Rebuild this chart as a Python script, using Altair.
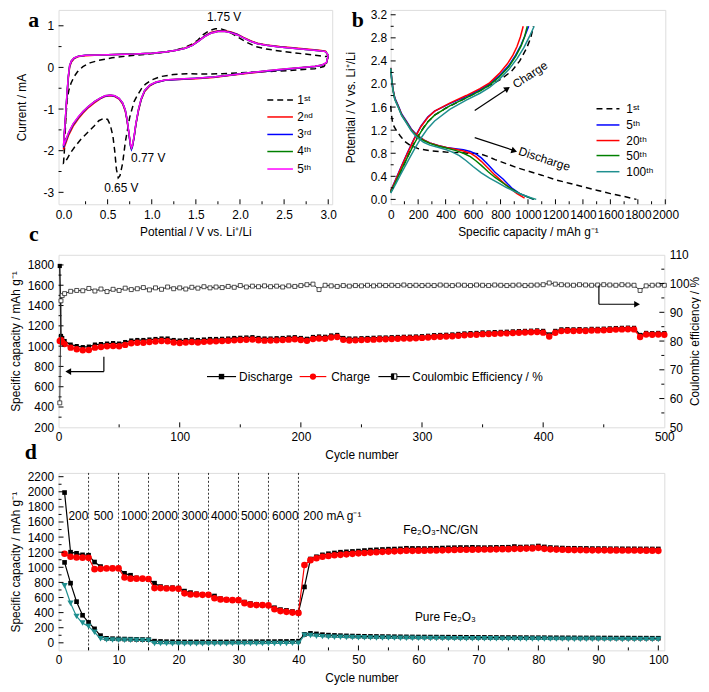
import altair as alt
import pandas as pd

FONT = "Liberation Sans"
SERIF = "Liberation Serif"
FS = 12

# ============================ DATA ============================
# ---- panel a : cyclic voltammograms (path order: cathodic then anodic sweep)
A_NAMES = ["1ˢᵗ", "2ⁿᵈ", "3ʳᵈ", "4ᵗʰ", "5ᵗʰ"]
A1_V = [3.0, 2.98, 2.95, 2.85, 2.6, 2.3, 2.0, 1.8, 1.6, 1.4, 1.25, 1.1, 1.0, 0.93, 0.88,
        0.84, 0.8, 0.75, 0.7, 0.67, 0.64, 0.62, 0.6, 0.58, 0.56, 0.53, 0.5, 0.46, 0.4,
        0.35, 0.28, 0.2, 0.13, 0.08, 0.04, 0.01, 0.0,
        0.01, 0.025, 0.04, 0.06, 0.085, 0.12, 0.16, 0.22, 0.3, 0.4, 0.55, 0.75, 1.0, 1.2,
        1.35, 1.45, 1.52, 1.58, 1.65, 1.72, 1.78, 1.85, 1.92, 2.0, 2.08, 2.18, 2.3, 2.5,
        2.7, 2.9, 2.97, 3.0]
A1_I = [0.28, 0.10, 0.02, -0.03, -0.07, -0.10, -0.13, -0.15, -0.16, -0.15, -0.17, -0.22,
        -0.30, -0.40, -0.52, -0.66, -0.82, -1.20, -1.80, -2.30, -2.60, -2.65, -2.45, -2.00,
        -1.65, -1.38, -1.25, -1.22, -1.28, -1.40, -1.55, -1.72, -1.90, -2.05, -2.20, -2.29,
        -2.30,
        -2.0, -1.3, -0.8, -0.55, -0.38, -0.22, -0.10, 0.02, 0.11, 0.17, 0.23, 0.28, 0.33,
        0.38, 0.46, 0.55, 0.65, 0.78, 0.88, 0.93, 0.93, 0.88, 0.80, 0.70, 0.60, 0.50, 0.44,
        0.38, 0.33, 0.28, 0.26, 0.28]
A_SOLID_V = [3.0, 2.98, 2.93, 2.85, 2.7, 2.5, 2.3, 2.1, 1.9, 1.7, 1.5, 1.3, 1.15, 1.05, 0.98,
             0.92, 0.88, 0.85, 0.82, 0.8, 0.78, 0.77, 0.76, 0.74, 0.72, 0.7, 0.67, 0.63, 0.58,
             0.53, 0.47, 0.42, 0.35, 0.28, 0.22, 0.17, 0.11, 0.06, 0.03, 0.0,
             0.01, 0.025, 0.04, 0.055, 0.07, 0.09, 0.12, 0.17, 0.25, 0.4, 0.6, 0.8, 1.0, 1.15,
             1.28, 1.38, 1.46, 1.53, 1.6, 1.67, 1.75, 1.83, 1.9, 1.97, 2.04, 2.12, 2.2, 2.3,
             2.45, 2.6, 2.75, 2.9, 2.97, 3.0]
A2_I = [0.28, 0.10, 0.05, 0.02, -0.01, -0.05, -0.09, -0.14, -0.19, -0.24, -0.27, -0.29, -0.31,
        -0.36, -0.44, -0.58, -0.78, -1.04, -1.38, -1.68, -1.90, -1.95, -1.88, -1.58, -1.28,
        -1.05, -0.88, -0.76, -0.70, -0.68, -0.70, -0.75, -0.85, -0.97, -1.10, -1.23, -1.41,
        -1.62, -1.80, -1.97,
        -1.62, -1.18, -0.68, -0.26, 0.01, 0.13, 0.21, 0.26, 0.28, 0.30, 0.31, 0.32, 0.34, 0.37,
        0.41, 0.47, 0.54, 0.64, 0.76, 0.84, 0.88, 0.88, 0.85, 0.80, 0.72, 0.64, 0.58, 0.54,
        0.50, 0.47, 0.44, 0.41, 0.39, 0.28]
A3_I = [0.29, 0.11, 0.05, 0.02, -0.01, -0.05, -0.09, -0.13, -0.18, -0.23, -0.26, -0.29, -0.31,
        -0.36, -0.43, -0.56, -0.77, -1.02, -1.37, -1.68, -1.92, -1.97, -1.90, -1.57, -1.26,
        -1.03, -0.86, -0.75, -0.69, -0.67, -0.69, -0.74, -0.83, -0.95, -1.07, -1.20, -1.37,
        -1.58, -1.75, -1.92,
        -1.58, -1.13, -0.63, -0.22, 0.04, 0.15, 0.22, 0.27, 0.29, 0.30, 0.31, 0.32, 0.34, 0.37,
        0.41, 0.46, 0.53, 0.63, 0.75, 0.83, 0.87, 0.87, 0.84, 0.79, 0.71, 0.63, 0.57, 0.53,
        0.49, 0.46, 0.43, 0.40, 0.38, 0.29]
A4_I = [0.30, 0.11, 0.06, 0.03, 0.00, -0.04, -0.08, -0.13, -0.18, -0.23, -0.26, -0.28, -0.30,
        -0.35, -0.42, -0.55, -0.76, -1.01, -1.36, -1.66, -1.89, -1.94, -1.87, -1.56, -1.25,
        -1.02, -0.85, -0.74, -0.68, -0.66, -0.68, -0.73, -0.82, -0.94, -1.06, -1.19, -1.36,
        -1.56, -1.73, -1.89,
        -1.56, -1.11, -0.61, -0.21, 0.05, 0.16, 0.23, 0.27, 0.29, 0.30, 0.31, 0.32, 0.34, 0.37,
        0.41, 0.46, 0.53, 0.63, 0.74, 0.82, 0.86, 0.86, 0.83, 0.78, 0.71, 0.63, 0.57, 0.53,
        0.49, 0.46, 0.43, 0.40, 0.38, 0.30]
A5_I = [0.30, 0.12, 0.06, 0.03, 0.00, -0.04, -0.08, -0.13, -0.18, -0.23, -0.26, -0.28, -0.30,
        -0.35, -0.42, -0.55, -0.75, -1.00, -1.35, -1.65, -1.88, -1.93, -1.86, -1.55, -1.25,
        -1.02, -0.85, -0.74, -0.68, -0.66, -0.68, -0.73, -0.82, -0.94, -1.06, -1.18, -1.35,
        -1.55, -1.72, -1.88,
        -1.55, -1.10, -0.60, -0.20, 0.05, 0.16, 0.23, 0.27, 0.29, 0.30, 0.31, 0.32, 0.34, 0.37,
        0.41, 0.46, 0.53, 0.63, 0.74, 0.82, 0.86, 0.86, 0.83, 0.78, 0.71, 0.63, 0.57, 0.53,
        0.49, 0.46, 0.43, 0.40, 0.38, 0.30]
A_PEAK_TEXT = ["1.75 V", "0.77 V", "0.65 V"]

# ---- panel b : charge / discharge profiles
B_NAMES = ["1ˢᵗ", "5ᵗʰ", "20ᵗʰ", "50ᵗʰ", "100ᵗʰ"]
B_DIS_CAP = [
    [0, 5, 12, 25, 45, 70, 100, 140, 200, 300, 400, 500, 580, 650, 700, 760, 840, 920, 1000,
     1100, 1200, 1300, 1400, 1500, 1600, 1700, 1790],
    [0, 8, 17, 30, 54, 80, 116, 150, 189, 240, 285, 350, 406, 470, 530, 580, 620, 660, 710,
     760, 820, 880, 940, 990, 1040],
    [0, 8, 17, 30, 54, 80, 116, 150, 189, 240, 285, 350, 406, 470, 530, 580, 620, 660, 710,
     760, 820, 870, 920, 975],
    [0, 8, 17, 30, 54, 80, 116, 150, 189, 240, 285, 350, 406, 470, 530, 580, 620, 660, 710,
     760, 820, 880, 940, 1000, 1045],
    [0, 8, 17, 30, 54, 80, 116, 150, 189, 240, 285, 350, 406, 450, 500, 550, 600, 660, 720,
     780, 840, 900, 960, 1020, 1060]]
B_DIS_V = [
    [1.62, 1.48, 1.36, 1.26, 1.18, 1.10, 1.01, 0.94, 0.88, 0.84, 0.82, 0.81, 0.80, 0.79, 0.75,
     0.69, 0.62, 0.55, 0.49, 0.42, 0.34, 0.28, 0.22, 0.16, 0.10, 0.05, 0.00],
    [2.28, 2.08, 1.91, 1.76, 1.63, 1.48, 1.35, 1.22, 1.12, 1.03, 0.98, 0.93, 0.90, 0.88, 0.86,
     0.83, 0.79, 0.72, 0.60, 0.47, 0.35, 0.20, 0.10, 0.05, 0.0],
    [2.28, 2.07, 1.90, 1.75, 1.62, 1.47, 1.34, 1.21, 1.11, 1.03, 0.98, 0.93, 0.90, 0.87, 0.84,
     0.80, 0.74, 0.66, 0.54, 0.42, 0.29, 0.19, 0.10, 0.02],
    [2.27, 2.06, 1.89, 1.74, 1.61, 1.46, 1.33, 1.20, 1.10, 1.02, 0.97, 0.92, 0.89, 0.85, 0.80,
     0.74, 0.67, 0.59, 0.48, 0.38, 0.28, 0.18, 0.10, 0.04, 0.0],
    [2.27, 2.05, 1.88, 1.73, 1.60, 1.45, 1.32, 1.19, 1.08, 0.99, 0.94, 0.90, 0.86, 0.82, 0.76,
     0.67, 0.57, 0.46, 0.37, 0.29, 0.21, 0.14, 0.08, 0.03, 0.0]]
B_CHG_CAP = [
    [0, 50, 100, 150, 200, 260, 320, 400, 500, 600, 700, 800, 880, 940, 990, 1020, 1040],
    [0, 30, 70, 120, 170, 220, 270, 320, 430, 550, 650, 720, 790, 860, 910, 950, 980, 1005],
    [0, 30, 70, 120, 170, 220, 270, 320, 430, 550, 650, 720, 790, 850, 890, 920, 945, 965],
    [0, 30, 70, 120, 170, 220, 270, 320, 430, 550, 650, 720, 790, 860, 910, 950, 975, 995],
    [0, 30, 70, 120, 170, 220, 270, 320, 430, 550, 650, 720, 790, 860, 920, 970, 1010, 1045]]
B_CHG_V = [
    [0.12, 0.36, 0.62, 0.88, 1.10, 1.32, 1.46, 1.58, 1.70, 1.82, 1.95, 2.08, 2.22, 2.40, 2.62,
     2.80, 3.00],
    [0.15, 0.31, 0.53, 0.80, 1.05, 1.27, 1.43, 1.53, 1.66, 1.78, 1.90, 2.00, 2.14, 2.32, 2.50,
     2.68, 2.85, 3.00],
    [0.15, 0.30, 0.52, 0.79, 1.04, 1.26, 1.42, 1.53, 1.67, 1.80, 1.92, 2.02, 2.18, 2.35, 2.50,
     2.65, 2.82, 3.00],
    [0.13, 0.27, 0.47, 0.72, 0.96, 1.17, 1.34, 1.46, 1.62, 1.76, 1.88, 1.98, 2.12, 2.30, 2.48,
     2.66, 2.82, 3.00],
    [0.11, 0.24, 0.42, 0.64, 0.86, 1.06, 1.23, 1.36, 1.56, 1.72, 1.84, 1.94, 2.08, 2.25, 2.44,
     2.63, 2.82, 3.00]]

# ---- panel c : long cycling (cycles 1, 2, 3, then every 5th cycle)
C_CYCLE = [1, 2, 3] + list(range(5, 501, 5))
C_DISCHARGE = [1790, 1100, 1080,
               1050, 1015, 1000, 990, 995, 1015, 1020, 1025, 1030, 1025,
               1040, 1055, 1060, 1060, 1065, 1070, 1075, 1075, 1060, 1055,
               1060, 1065, 1060, 1065, 1070, 1070, 1072, 1075, 1080, 1082,
               1085, 1088, 1080, 1075, 1075, 1078, 1080, 1085, 1088, 1080,
               1072, 1090, 1095, 1092, 1105, 1110, 1080, 1075, 1075, 1078,
               1080, 1082, 1085, 1085, 1088, 1090, 1092, 1093, 1095, 1098,
               1102, 1108, 1110, 1112, 1115, 1120, 1125, 1128, 1130, 1135,
               1135, 1138, 1140, 1142, 1145, 1148, 1150, 1152, 1155, 1150,
               1115, 1150, 1165, 1168, 1165, 1168, 1165, 1170, 1170, 1172,
               1175, 1178, 1180, 1182, 1180, 1110, 1130, 1128, 1130, 1128]
C_CHARGE = [1050, 1060, 1040,
            1020, 985, 970, 960, 962, 985, 992, 998, 1002, 998,
            1012, 1028, 1033, 1034, 1040, 1045, 1050, 1048, 1035, 1030,
            1036, 1040, 1036, 1042, 1046, 1047, 1050, 1053, 1057, 1060,
            1063, 1066, 1058, 1054, 1055, 1057, 1060, 1064, 1067, 1060,
            1052, 1070, 1075, 1073, 1085, 1090, 1062, 1056, 1057, 1060,
            1062, 1064, 1067, 1068, 1070, 1072, 1075, 1076, 1078, 1081,
            1085, 1090, 1093, 1095, 1098, 1103, 1108, 1111, 1113, 1118,
            1119, 1121, 1124, 1126, 1129, 1132, 1134, 1136, 1139, 1133,
            1095, 1132, 1148, 1151, 1149, 1152, 1149, 1154, 1155, 1157,
            1160, 1163, 1165, 1167, 1165, 1090, 1114, 1113, 1115, 1113]
C_CE = [58.5, 94.0, 95.8,
        96.5, 97.3, 97.6, 97.5, 98.3, 97.4, 98.1, 97.2, 98.0, 97.6,
        98.4, 97.9, 98.2, 98.6, 97.8, 98.5, 98.0, 98.8, 98.2, 98.5,
        98.1, 98.7, 98.4, 98.9, 98.5, 98.8, 98.6, 99.0, 98.7, 99.3,
        98.8, 99.1, 98.9, 99.2, 98.9, 99.1, 98.8, 99.2, 99.0, 99.3,
        99.6, 99.8, 97.9, 99.4, 99.2, 99.0, 99.3, 99.1, 99.3, 99.2,
        99.4, 99.2, 99.4, 99.3, 99.4, 99.3, 99.5, 99.3, 99.4, 99.3,
        99.4, 99.3, 99.5, 99.4, 99.3, 99.5, 99.4, 99.3, 99.5, 99.4,
        99.3, 99.5, 99.4, 99.3, 99.4, 99.5, 99.3, 99.4, 99.5, 99.6,
        100.2, 99.8, 99.6, 99.5, 99.4, 99.6, 99.5, 99.4, 99.5, 99.6,
        99.5, 99.4, 99.6, 99.5, 99.4, 97.6, 99.2, 99.4, 99.5, 99.4]
C_LEGEND = ["Discharge", "Charge", "Coulombic Efficiency / %"]

# ---- panel d : rate capability
D_CYCLE = list(range(1, 101))
D_NC_DIS = [1990, 1200, 1185, 1165, 1160, 1070, 1010, 985, 990, 990,
            920, 895, 860, 850, 840, 790, 745, 730, 730, 725,
            685, 665, 650, 640, 640, 620, 585, 575, 565, 560,
            540, 520, 510, 500, 495, 465, 440, 430, 415, 405,
            740, 1110, 1140, 1165, 1180, 1190, 1200, 1205, 1210, 1215,
            1222, 1228, 1232, 1236, 1240, 1242, 1245, 1252, 1250, 1250,
            1248, 1250, 1252, 1255, 1258, 1260, 1262, 1262, 1265, 1262,
            1260, 1262, 1264, 1265, 1266, 1275, 1268, 1270, 1272, 1282,
            1270, 1262, 1258, 1255, 1252, 1252, 1250, 1250, 1248, 1248,
            1248, 1246, 1246, 1245, 1245, 1245, 1244, 1244, 1243, 1243]
D_NC_CHG = [1180, 1140, 1130, 1128, 1125, 975, 980, 985, 985, 985,
            865, 850, 850, 850, 845, 725, 725, 720, 720, 715,
            655, 640, 640, 635, 635, 590, 575, 570, 565, 565,
            525, 505, 500, 500, 495, 445, 420, 410, 400, 395,
            1030, 1095, 1120, 1140, 1150, 1160, 1165, 1172, 1178, 1185,
            1190, 1195, 1200, 1205, 1208, 1212, 1215, 1220, 1218, 1220,
            1220, 1222, 1223, 1225, 1228, 1230, 1232, 1232, 1234, 1235,
            1236, 1236, 1238, 1240, 1240, 1245, 1245, 1248, 1250, 1258,
            1245, 1238, 1235, 1232, 1230, 1228, 1228, 1226, 1225, 1225,
            1225, 1224, 1224, 1223, 1222, 1222, 1221, 1220, 1220, 1218]
D_PURE_DIS = [1065, 790, 545, 365, 270, 185, 95, 60, 55, 52,
              50, 48, 46, 44, 42, 22, 18, 15, 14, 13,
              12, 12, 12, 12, 12, 12, 12, 12, 13, 13,
              14, 14, 15, 15, 16, 16, 18, 18, 20, 22,
              112, 125, 118, 108, 102, 98, 95, 92, 90, 88,
              86, 85, 84, 83, 82, 81, 80, 79, 78, 77,
              77, 76, 76, 75, 75, 74, 74, 73, 73, 72,
              72, 71, 71, 70, 70, 70, 69, 69, 68, 68,
              68, 67, 67, 66, 66, 66, 65, 65, 65, 64,
              64, 64, 63, 63, 63, 62, 62, 62, 61, 61]
D_PURE_CHG = [755, 525, 350, 262, 218, 140, 55, 40, 38, 36,
              35, 34, 33, 32, 30, -8, -10, -10, -12, -12,
              -12, -12, -12, -12, -12, -12, -12, -12, -10, -10,
              -10, -10, -10, -10, -8, -8, -8, -8, -6, -5,
              102, 96, 88, 82, 78, 75, 73, 71, 70, 68,
              67, 66, 65, 64, 63, 62, 61, 60, 60, 59,
              58, 58, 57, 57, 56, 56, 55, 55, 54, 54,
              54, 53, 53, 52, 52, 52, 51, 51, 50, 50,
              50, 49, 49, 49, 48, 48, 48, 47, 47, 47,
              46, 46, 46, 45, 45, 45, 45, 44, 44, 44]
D_BREAKS = [5, 10, 15, 20, 25, 30, 35, 40]
D_RATES = ["200", "500", "1000", "2000", "3000", "4000", "5000", "6000"]

# ============================ STYLE ============================
A_COLORS = ["#000000", "#ff0000", "#0000ff", "#008000", "#ff00ff"]
B_COLORS = ["#000000", "#0000ff", "#ff0000", "#008000", "#1f8f8f"]
TEAL = "#1f8f8f"
DASH = [6, 4]
LETTER = 22


def ax(values, title, fmt=None, orient=None, lp=5, tp=7, expr=None, **kw):
    d = dict(values=values, title=title, ticks=False, domain=False, grid=False,
             labelFont=FONT, labelFontSize=FS, labelColor="black",
             titleFont=FONT, titleFontSize=FS, titleFontWeight="normal",
             titleColor="black", labelOverlap=False, labelFlush=False,
             labelBound=False, labelPadding=lp, titlePadding=tp)
    if fmt:
        d["format"] = fmt
    if orient:
        d["orient"] = orient
    if expr:
        d["labelExpr"] = expr
    d.update(kw)
    return alt.Axis(**d)


def qx(dom, axis):
    return alt.X("x:Q", scale=alt.Scale(domain=dom, nice=False, zero=False), axis=axis)


def qy(dom, axis):
    return alt.Y("y:Q", scale=alt.Scale(domain=dom, nice=False, zero=False), axis=axis)


def path(xs, ys):
    return pd.DataFrame({"x": xs, "y": ys, "k": list(range(len(xs)))})


def line(df, X, Y, color, width=1.5, dash=None):
    kw = dict(color=color, strokeWidth=width)
    if dash:
        kw["strokeDash"] = dash
    return alt.Chart(df).mark_line(**kw).encode(x=X, y=Y, order="k:Q")


def pts(df, X, Y, shape, size, color):
    return alt.Chart(df).mark_point(shape=shape, size=size, opacity=1, filled=True,
                                    color=color).encode(x=X, y=Y)


def text(x, y, t, X, Y, size=FS, align="center", baseline="middle", angle=0,
         font=FONT, weight="normal", color="black"):
    df = pd.DataFrame({"x": [x], "y": [y], "t": [t]})
    return alt.Chart(df).mark_text(font=font, fontSize=size, fontWeight=weight, align=align,
                                   baseline=baseline, angle=angle, color=color).encode(
        x=X, y=Y, text="t:N")


def seg(x1, y1, x2, y2, X, Y, color="black", width=1.0, dash=None):
    df = pd.DataFrame({"x": [x1], "y": [y1], "x2": [x2], "y2": [y2]})
    kw = dict(color=color, strokeWidth=width)
    if dash:
        kw["strokeDash"] = dash
    return alt.Chart(df).mark_rule(**kw).encode(x=X, y=Y, x2="x2:Q", y2="y2:Q")


def head(x, y, X, Y, shape, angle=0, size=45):
    df = pd.DataFrame({"x": [x], "y": [y]})
    return alt.Chart(df).mark_point(shape=shape, size=size, filled=True, color="black",
                                    opacity=1, angle=angle).encode(x=X, y=Y)


def ticks_bottom(X, major, minor, H):
    out = []
    for vals, ln in ((major, 5), (minor, 3)):
        out.append(alt.Chart(pd.DataFrame({"x": vals})).mark_rule(
            color="black", strokeWidth=1).encode(x=X, y=alt.value(H), y2=alt.value(H - ln)))
    return out


def ticks_side(Y, major, minor, x0, sign):
    out = []
    for vals, ln in ((major, 5), (minor, 3)):
        out.append(alt.Chart(pd.DataFrame({"y": vals})).mark_rule(
            color="black", strokeWidth=1).encode(y=Y, x=alt.value(x0), x2=alt.value(x0 + sign * ln)))
    return out


# ============================ PANEL a ============================
AW, AH = 276, 196
a_X = qx([-0.056, 3.045], ax([0, 0.5, 1, 1.5, 2, 2.5, 3], "Potential / V vs. Li⁺/Li",
                              fmt=".1f", lp=5, tp=7))
a_Y = qy([-3.286, 1.381], ax([-3, -2, -1, 0, 1], "Current / mA", expr="'' + datum.value",
                             lp=5, tp=15))
a_layers = [line(path(A1_V, A1_I), a_X, a_Y, A_COLORS[0], 1.5, DASH)]
for I, col in zip([A2_I, A3_I, A4_I, A5_I], A_COLORS[1:]):
    a_layers.append(line(path(A_SOLID_V, I), a_X, a_Y, col, 1.5))
for name, col, yy in zip(A_NAMES, A_COLORS, [-0.78, -1.19, -1.61, -2.02, -2.44]):
    a_layers.append(seg(2.31, yy, 2.6, yy, a_X, a_Y, col, 1.5, DASH if col == "#000000" else None))
    a_layers.append(text(2.65, yy, name, a_X, a_Y, align="left"))
for t, xv, yv in zip(A_PEAK_TEXT, [1.82, 0.96, 0.655], [1.2, -2.17, -2.9]):
    a_layers.append(text(xv, yv, t, a_X, a_Y))
a_layers.append(text(-0.337, 0.976, "a", a_X, a_Y, size=LETTER, font=SERIF, weight="bold",
                     baseline="alphabetic"))
a_layers.append(text(-0.337, -4.167, "c", a_X, a_Y, size=LETTER, font=SERIF, weight="bold",
                     baseline="alphabetic"))
a_layers += ticks_bottom(a_X, [0.5, 1, 1.5, 2, 2.5, 3], [0.25, 0.75, 1.25, 1.75, 2.25, 2.75], AH)
a_layers += ticks_side(a_Y, [-3, -2, -1, 0, 1], [-2.5, -1.5, -0.5, 0.5], 0, 1)
panel_a = alt.layer(*a_layers).properties(width=AW, height=AH)

# ============================ PANEL b ============================
BW, BH = 277, 196
b_X = qx([0, 2000], ax(list(range(0, 2001, 200)), "Specific capacity / mAh g⁻¹",
                       fmt="d", lp=5, tp=7))
b_Y = qy([-0.084, 3.284], ax([round(0.4 * i, 1) for i in range(9)], "Potential / V vs. Li⁺/Li",
                            fmt=".1f", lp=4, tp=13))
b_layers = []
for i, col in enumerate(B_COLORS):
    dash = DASH if i == 0 else None
    b_layers.append(line(path(B_DIS_CAP[i], B_DIS_V[i]), b_X, b_Y, col, 1.5, dash))
    b_layers.append(line(path(B_CHG_CAP[i], B_CHG_V[i]), b_X, b_Y, col, 1.5, dash))
for name, col, yy in zip(B_NAMES, B_COLORS, [1.57, 1.29, 1.02, 0.76, 0.48]):
    b_layers.append(seg(1499, yy, 1666, yy, b_X, b_Y, col, 1.5, DASH if col == "#000000" else None))
    b_layers.append(text(1716, yy, name, b_X, b_Y, align="left"))
b_layers.append(seg(612, 1.54, 845, 1.91, b_X, b_Y, "black", 1.2))
b_layers.append(head(850, 1.92, b_X, b_Y, "triangle-up", angle=56))
b_layers.append(seg(612, 1.07, 895, 0.85, b_X, b_Y, "black", 1.2))
b_layers.append(head(900, 0.84, b_X, b_Y, "triangle-up", angle=109))
b_layers.append(text(1015, 2.16, "Charge", b_X, b_Y, angle=327))
b_layers.append(text(1120, 0.70, "Discharge", b_X, b_Y, angle=18))
b_layers.append(text(-240, 2.992, "b", b_X, b_Y, size=LETTER, font=SERIF, weight="bold",
                     baseline="alphabetic"))
b_layers += ticks_bottom(b_X, list(range(200, 2001, 200)), list(range(100, 2000, 200)), BH)
b_layers += ticks_side(b_Y, [round(0.4 * i, 1) for i in range(9)],
                       [round(0.2 + 0.4 * i, 1) for i in range(8)], 0, 1)
panel_b = alt.layer(*b_layers).properties(width=BW, height=BH)

# ============================ PANEL c ============================
CW, CH = 611, 174
c_X = qx([0, 500], ax(list(range(0, 501, 100)), "Cycle number", fmt="d", lp=4, tp=7))
c_YL = qy([200, 1900], ax(list(range(200, 1801, 200)), "Specific capacity / mAh g⁻¹",
                          fmt="d", lp=5, tp=5))
c_YR = qy([50, 110], ax(list(range(50, 111, 10)), "Coulombic efficiency / %", fmt="d",
                        orient="right", lp=5, tp=0, titleAngle=270, titleBaseline="top"))
df_dis = pd.DataFrame({"x": C_CYCLE, "y": C_DISCHARGE, "k": range(len(C_CYCLE))})
df_chg = pd.DataFrame({"x": C_CYCLE, "y": C_CHARGE, "k": range(len(C_CYCLE))})
df_ce = pd.DataFrame({"x": C_CYCLE, "y": C_CE, "k": range(len(C_CYCLE))})
LEG_Y = 700
left = [
    line(df_dis, c_X, c_YL, "black", 1.3),
    pts(df_dis, c_X, c_YL, "square", 18, "black"),
    line(df_chg, c_X, c_YL, "#ff0000", 1.3),
    pts(df_chg, c_X, c_YL, "circle", 42, "#ff0000"),
    # legend
    seg(122.5, LEG_Y, 146.5, LEG_Y, c_X, c_YL, "black", 1.2),
    head(134.5, LEG_Y, c_X, c_YL, "square", size=30),
    text(149, LEG_Y, C_LEGEND[0], c_X, c_YL, align="left"),
    seg(199, LEG_Y, 221, LEG_Y, c_X, c_YL, "#ff0000", 1.2),
    alt.Chart(pd.DataFrame({"x": [210], "y": [LEG_Y]})).mark_point(
        shape="circle", size=40, filled=True, color="#ff0000", opacity=1).encode(x=c_X, y=c_YL),
    text(225, LEG_Y, C_LEGEND[1], c_X, c_YL, align="left"),
    seg(264, LEG_Y, 290, LEG_Y, c_X, c_YL, "black", 1.2),
    alt.Chart(pd.DataFrame({"x": [277], "y": [LEG_Y]})).mark_point(
        shape="square", size=30, filled=True, fill="white", stroke="black", strokeWidth=1,
        opacity=1).encode(x=c_X, y=c_YL),
    alt.Chart(pd.DataFrame({"x": [277], "y": [LEG_Y]})).mark_point(
        shape="M-1,-1H0V1H-1Z", size=30, filled=True, color="black", opacity=1).encode(
        x=c_X, y=c_YL),
    text(292, LEG_Y, C_LEGEND[2], c_X, c_YL, align="left"),
    # left arrow
    seg(37.4, 896, 37.4, 749, c_X, c_YL, "black", 1.2),
    seg(37.4, 749, 9, 749, c_X, c_YL, "black", 1.2),
    head(8, 749, c_X, c_YL, "triangle-left", size=45),
    text(-23, -117, "d", c_X, c_YL, size=LETTER, font=SERIF, weight="bold", baseline="alphabetic"),
]
left += ticks_bottom(c_X, list(range(100, 500, 100)), list(range(50, 500, 100)), CH)
left += ticks_side(c_YL, list(range(400, 1801, 200)), list(range(300, 1900, 200)), 0, 1)
right = [
    line(df_ce, c_X, c_YR, "#333333", 1.0),
    alt.Chart(df_ce).mark_point(shape="square", size=16, filled=True, fill="white",
                                stroke="#222222", strokeWidth=0.8, opacity=1).encode(x=c_X, y=c_YR),
    seg(446, 99.3, 446, 92.8, c_X, c_YR, "black", 1.2),
    seg(446, 92.8, 476, 92.8, c_X, c_YR, "black", 1.2),
    head(477.5, 92.8, c_X, c_YR, "triangle-right", size=45),
]
right += ticks_side(c_YR, list(range(60, 101, 10)), list(range(55, 110, 10)), CW, -1)
panel_c = alt.layer(alt.layer(*left), alt.layer(*right)).resolve_scale(
    y="independent").properties(width=CW, height=CH)

# ============================ PANEL d ============================
DW, DH = 611, 179
d_X = qx([0, 101], ax(list(range(0, 101, 10)), "Cycle number", fmt="d", lp=4, tp=7))
d_Y = qy([-100, 2250], ax(list(range(0, 2201, 200)), "Specific capacity / mAh g⁻¹",
                          fmt="d", lp=5, tp=5))
df_nd = pd.DataFrame({"x": D_CYCLE, "y": D_NC_DIS, "k": D_CYCLE})
df_nc = pd.DataFrame({"x": D_CYCLE, "y": D_NC_CHG, "k": D_CYCLE})
df_pd = pd.DataFrame({"x": D_CYCLE, "y": D_PURE_DIS, "k": D_CYCLE})
df_pc = pd.DataFrame({"x": D_CYCLE, "y": D_PURE_CHG, "k": D_CYCLE})
d_layers = [
    alt.Chart(pd.DataFrame({"x": D_BREAKS})).mark_rule(color="black", strokeWidth=0.8,
                                                       strokeDash=[2, 2]).encode(x=d_X),
    line(df_pd, d_X, d_Y, "black", 1.2),
    pts(df_pd, d_X, d_Y, "square", 22, "black"),
    line(df_pc, d_X, d_Y, TEAL, 1.2),
    pts(df_pc, d_X, d_Y, "triangle-down", 40, TEAL),
    line(df_nd, d_X, d_Y, "black", 1.2),
    pts(df_nd, d_X, d_Y, "square", 22, "black"),
    line(df_nc, d_X, d_Y, "#ff0000", 1.2),
    pts(df_nc, d_X, d_Y, "circle", 45, "#ff0000"),
]
for t, xv in zip(D_RATES, [3.3, 7.5, 12.6, 17.7, 22.7, 27.6, 32.6, 37.8]):
    d_layers.append(text(xv, 1673, t, d_X, d_Y))
d_layers.append(text(40.8, 1673, "200 mA g⁻¹", d_X, d_Y, align="left"))
d_layers.append(text(63.7, 1500, "Fe₂O₃-NC/GN", d_X, d_Y))
d_layers.append(text(64.5, 347, "Pure Fe₂O₃", d_X, d_Y))
d_layers += ticks_bottom(d_X, list(range(10, 101, 10)), list(range(5, 100, 10)), DH)
d_layers += ticks_side(d_Y, list(range(0, 2201, 200)), list(range(100, 2200, 200)), 0, 1)
panel_d = alt.layer(*d_layers).properties(width=DW, height=DH)

# ============================ LAYOUT ============================
top = alt.hconcat(panel_a, panel_b, spacing=6)
bottom = alt.vconcat(panel_c, panel_d, spacing=6)
chart = alt.vconcat(top, bottom, spacing=2).properties(
    padding={"top": -3, "left": 0, "right": 0, "bottom": 0}).configure_view(
    stroke="black", strokeWidth=1).configure(font=FONT)

chart.save("out.html", embed_options={"renderer": "svg", "actions": False})
